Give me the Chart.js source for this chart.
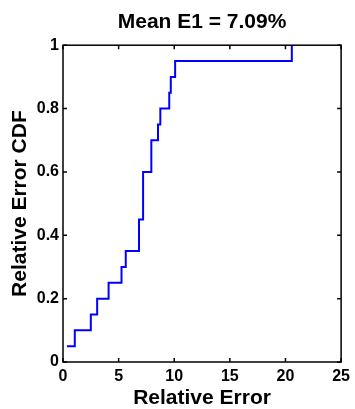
<!DOCTYPE html>
<html>
<head>
<meta charset="utf-8">
<script src="https://cdn.jsdelivr.net/npm/chart.js@4.4.1/dist/chart.umd.min.js"></script>
<style>
  html, body { margin: 0; padding: 0; background: #fff; }
  #wrap { width: 355px; height: 409px; }
</style>
</head>
<body>
<div id="wrap"><canvas id="cdfChart" width="355" height="409"></canvas></div>
<script>
// sorted relative errors (x) and the CDF level reached at each one (y)
const errorValues = [0.35, 1.06, 2.5, 3.07, 4.1, 5.26, 5.64, 6.83, 7.2, 7.94, 8.54, 8.75, 9.55, 9.69, 10.08, 20.57];
const cdfValues = [0.05, 0.10, 0.15, 0.20, 0.25, 0.30, 0.35, 0.45, 0.60, 0.70, 0.75, 0.80, 0.85, 0.90, 0.95, 1.00];
const xTicks = [0, 5, 10, 15, 20, 25];
const yTicks = [0, 0.2, 0.4, 0.6, 0.8, 1];

const chartTitle = "Mean E1 = 7.09%";
const xTitle = "Relative Error";
const yTitle = "Relative Error CDF";

const FONT = "'Liberation Sans', Arial, sans-serif";

// matlab style box with inward ticks on all sides
const boxPlugin = {
    id: "box",
    afterDatasetsDraw(chart) {
        const { ctx, chartArea: a, scales } = chart;
        const tl = 4;
        ctx.save();
        ctx.strokeStyle = "#000";
        ctx.lineWidth = 1.5;
        ctx.beginPath();
        xTicks.forEach(v => {
            const px = scales.x.getPixelForValue(v);
            ctx.moveTo(px, a.bottom); ctx.lineTo(px, a.bottom - tl);
            ctx.moveTo(px, a.top); ctx.lineTo(px, a.top + tl);
        });
        yTicks.forEach(v => {
            const py = scales.y.getPixelForValue(v);
            ctx.moveTo(a.left, py); ctx.lineTo(a.left + tl, py);
            ctx.moveTo(a.right, py); ctx.lineTo(a.right - tl, py);
        });
        ctx.stroke();
        ctx.strokeRect(a.left, a.top, a.right - a.left, a.bottom - a.top);
        ctx.restore();
    }
};

document.addEventListener("DOMContentLoaded", () => {
    const ctx = document.getElementById("cdfChart").getContext("2d");
    new Chart(ctx, {
        type: "line",
        data: {
            datasets: [{
                data: errorValues.map((x, i) => ({ x: x, y: cdfValues[i] })),
                borderColor: "#0000ff",
                borderWidth: 2,
                pointRadius: 0,
                stepped: "before",
                fill: false
            }]
        },
        options: {
            responsive: false,
            animation: false,
            devicePixelRatio: 1,
            layout: { padding: { left: 0, right: 10, top: 0, bottom: 0 } },
            plugins: {
                legend: { display: false },
                tooltip: { enabled: false },
                title: {
                    display: true,
                    text: chartTitle,
                    fullSize: false,
                    color: "#000",
                    font: { family: FONT, size: 21, weight: "bold", lineHeight: 1.2 },
                    padding: { top: 10, bottom: 10 }
                }
            },
            scales: {
                x: {
                    type: "linear",
                    min: 0,
                    max: 25,
                    afterBuildTicks: s => { s.ticks = xTicks.map(v => ({ value: v })); },
                    afterFit: s => { s.height = 47; },
                    grid: { display: false, drawTicks: false, tickLength: 0 },
                    border: { display: false },
                    ticks: {
                        color: "#000",
                        padding: 5,
                        maxRotation: 0,
                        callback: v => String(v),
                        font: { family: FONT, size: 16, weight: "bold" }
                    },
                    title: {
                        display: true,
                        text: xTitle,
                        color: "#000",
                        font: { family: FONT, size: 21, weight: "bold", lineHeight: 1 },
                        padding: { top: 0, bottom: 0 }
                    }
                },
                y: {
                    type: "linear",
                    min: 0,
                    max: 1,
                    afterBuildTicks: s => { s.ticks = yTicks.map(v => ({ value: v })); },
                    afterFit: s => { s.width = 63; },
                    grid: { display: false, drawTicks: false, tickLength: 0 },
                    border: { display: false },
                    ticks: {
                        color: "#000",
                        padding: 4,
                        callback: v => String(Math.round(v * 10) / 10),
                        font: { family: FONT, size: 16, weight: "bold" }
                    },
                    title: {
                        display: true,
                        text: yTitle,
                        color: "#000",
                        font: { family: FONT, size: 21, weight: "bold", lineHeight: 1.2 },
                        padding: { top: 8, bottom: 0 }
                    }
                }
            }
        },
        plugins: [boxPlugin]
    });
});
</script>
</body>
</html>
